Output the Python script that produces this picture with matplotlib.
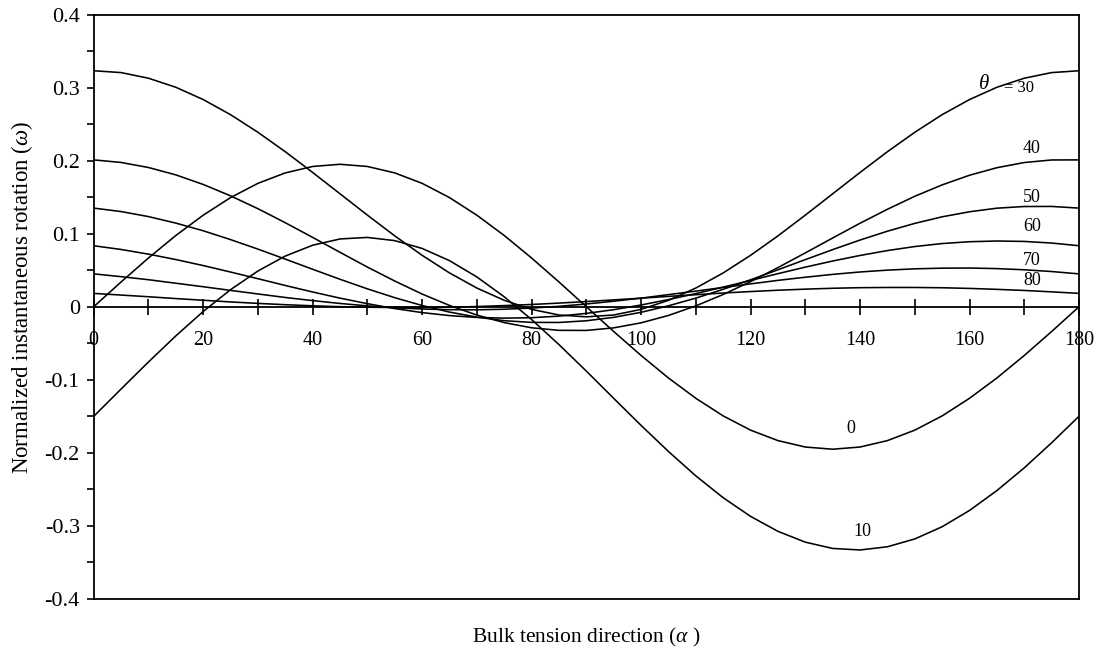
import matplotlib
matplotlib.use('Agg')
import matplotlib.pyplot as plt
from matplotlib.ticker import FixedLocator, FixedFormatter

plt.rcParams['font.family'] = ['Liberation Serif', 'DejaVu Serif']
plt.rcParams['mathtext.fontset'] = 'custom'
plt.rcParams['mathtext.rm'] = 'Liberation Serif'
plt.rcParams['mathtext.it'] = 'Liberation Serif:italic'
plt.rcParams['axes.unicode_minus'] = False

# ---- data -------------------------------------------------------------
alpha = list(range(0, 181, 5))

omega_00 = [0, .0339, .0667, .0975, .1253, .1494, .1689, .1832, .1920, .1950,
            .1920, .1832, .1689, .1494, .1253, .0975, .0667, .0339, 0,
            -.0339, -.0667, -.0975, -.1253, -.1494, -.1689, -.1832, -.1920,
            -.1950, -.1920, -.1832, -.1689, -.1494, -.1253, -.0975, -.0667,
            -.0339, 0]
omega_10 = [-.150, -.1126, -.0756, -.0399, -.0065, .0234, .0489, .0694, .0842,
            .0928, .0949, .0905, .0798, .0631, .0408, .0136, -.0175, -.0518,
            -.0881, -.1254, -.1624, -.1981, -.2315, -.2614, -.2869, -.3074,
            -.3222, -.3308, -.3329, -.3285, -.3178, -.3011, -.2788, -.2516,
            -.2205, -.1862, -.1499]
omega_30 = [.323, .3205, .3128, .3004, .2836, .2629, .2388, .2122, .1838, .1546,
            .1254, .0970, .0704, .0463, .0256, .0088, -.0036, -.0113, -.0138,
            -.0113, -.0036, .0088, .0256, .0463, .0704, .0970, .1254, .1546,
            .1838, .2122, .2388, .2629, .2836, .3004, .3128, .3205, .323]
omega_40 = [.201, .1975, .1906, .1805, .1674, .1518, .1342, .1150, .0949, .0745,
            .0543, .0352, .0174, .0018, -.0114, -.0217, -.0288, -.0323, -.0324,
            -.0289, -.0220, -.0119, .0012, .0168, .0344, .0536, .0737, .0941,
            .1143, .1334, .1512, .1668, .1800, .1903, .1974, .2009, .201]
omega_50 = [.135, .1303, .1234, .1145, .1040, .0919, .0789, .0652, .0513, .0376,
            .0245, .0124, .0017, -.0073, -.0142, -.0191, -.0214, -.0215, -.0192,
            -.0145, -.0076, .0013, .0118, .0239, .0369, .0506, .0645, .0782,
            .0913, .1034, .1141, .1231, .1300, .1349, .1372, .1373, .135]
omega_60 = [.0835, .0784, .0720, .0646, .0564, .0475, .0384, .0291, .0202, .0118,
            .0042, -.0025, -.0080, -.0121, -.0146, -.0156, -.0150, -.0128,
            -.0091, -.0040, .0024, .0098, .0180, .0269, .0360, .0453, .0542,
            .0626, .0702, .0769, .0824, .0865, .0890, .0900, .0894, .0872, .0835]
omega_70 = [.0450, .0412, .0370, .0322, .0274, .0224, .0175, .0127, .0084, .0045,
            .0012, -.0013, -.0031, -.0040, -.0042, -.0034, -.0018, .0006, .0038,
            .0076, .0118, .0166, .0214, .0264, .0313, .0361, .0404, .0443, .0476,
            .0501, .0519, .0528, .0530, .0522, .0506, .0482, .0450]
omega_80 = [.0183, .0160, .0137, .0112, .0089, .0066, .0046, .0028, .0013, .0001,
            -.0007, -.0010, -.0010, -.0006, .0003, .0016, .0031, .0050, .0071,
            .0094, .0117, .0142, .0165, .0188, .0208, .0226, .0241, .0253, .0261,
            .0264, .0264, .0260, .0251, .0238, .0223, .0204, .0183]

x_major = [0, 20, 40, 60, 80, 100, 120, 140, 160, 180]
x_minor = [10, 30, 50, 70, 90, 110, 130, 150, 170]
x_labels = ['0', '20', '40', '60', '80', '100', '120', '140', '160', '180']
y_major = [-0.4, -0.3, -0.2, -0.1, 0, 0.1, 0.2, 0.3, 0.4]
y_minor = [-0.35, -0.25, -0.15, -0.05, 0.05, 0.15, 0.25, 0.35]
y_labels = ['-0.4', '-0.3', '-0.2', '-0.1', '0', '0.1', '0.2', '0.3', '0.4']

curve_labels = ['0', '10', '40', '50', '60', '70', '80']
label_x = [138.3, 140.4, 171.4, 171.4, 171.4, 171.4, 171.4]
label_y = [-0.167, -0.308, 0.216, 0.149, 0.110, 0.063, 0.036]

# ---- figure -----------------------------------------------------------
W, H = 1099, 649
fig = plt.figure(figsize=(W / 100, H / 100), dpi=100)
x0, x1, ytop, ybot = 93.7, 1079.0, 14.5, 599.0
ax = fig.add_axes([x0 / W, 1 - ybot / H, (x1 - x0) / W, (ybot - ytop) / H])

for ys in [omega_00, omega_10, omega_30, omega_40, omega_50, omega_60,
           omega_70, omega_80]:
    ax.plot(alpha, ys, color='black', lw=1.15, solid_joinstyle='round')

ax.set_xlim(0, 180)
ax.set_ylim(-0.4, 0.4)

for s in ['left', 'right', 'top', 'bottom']:
    ax.spines[s].set_linewidth(1.3)
ax.spines['bottom'].set_position(('data', 0))
ax.plot([0, 180], [-0.4, -0.4], color='black', lw=1.3, clip_on=False)

ax.xaxis.set_major_locator(FixedLocator(x_major))
ax.xaxis.set_minor_locator(FixedLocator(x_minor))
ax.xaxis.set_major_formatter(FixedFormatter(x_labels))
ax.tick_params(axis='x', which='both', direction='inout', length=11,
               width=1.2, labelsize=14.5, pad=12)

ax.yaxis.set_major_locator(FixedLocator(y_major))
ax.yaxis.set_minor_locator(FixedLocator(y_minor))
ax.yaxis.set_major_formatter(FixedFormatter(y_labels))
ax.tick_params(axis='y', which='major', direction='out', length=5,
               width=1.2, labelsize=16, pad=5)
ax.tick_params(axis='y', which='minor', direction='out', length=5, width=1.2)

for t, lx, ly in zip(curve_labels, label_x, label_y):
    ax.text(lx, ly, t, fontsize=13, ha='center', va='center')

ax.text(162.6, 0.304, 'θ', fontsize=15, fontstyle='italic',
        ha='center', va='center')
ax.text(166.3, 0.300, '= 30', fontsize=12, ha='left', va='center')

fig.text(22 / W, 1 - 297 / H, r'Normalized instantaneous rotation ($\omega$)',
         rotation=90, fontsize=16.5, ha='center', va='center')
fig.text(586 / W, 1 - 637 / H, r'Bulk tension direction ($\alpha$ )',
         fontsize=15.5, ha='center', va='center')

fig.savefig('out.png', dpi=100)
